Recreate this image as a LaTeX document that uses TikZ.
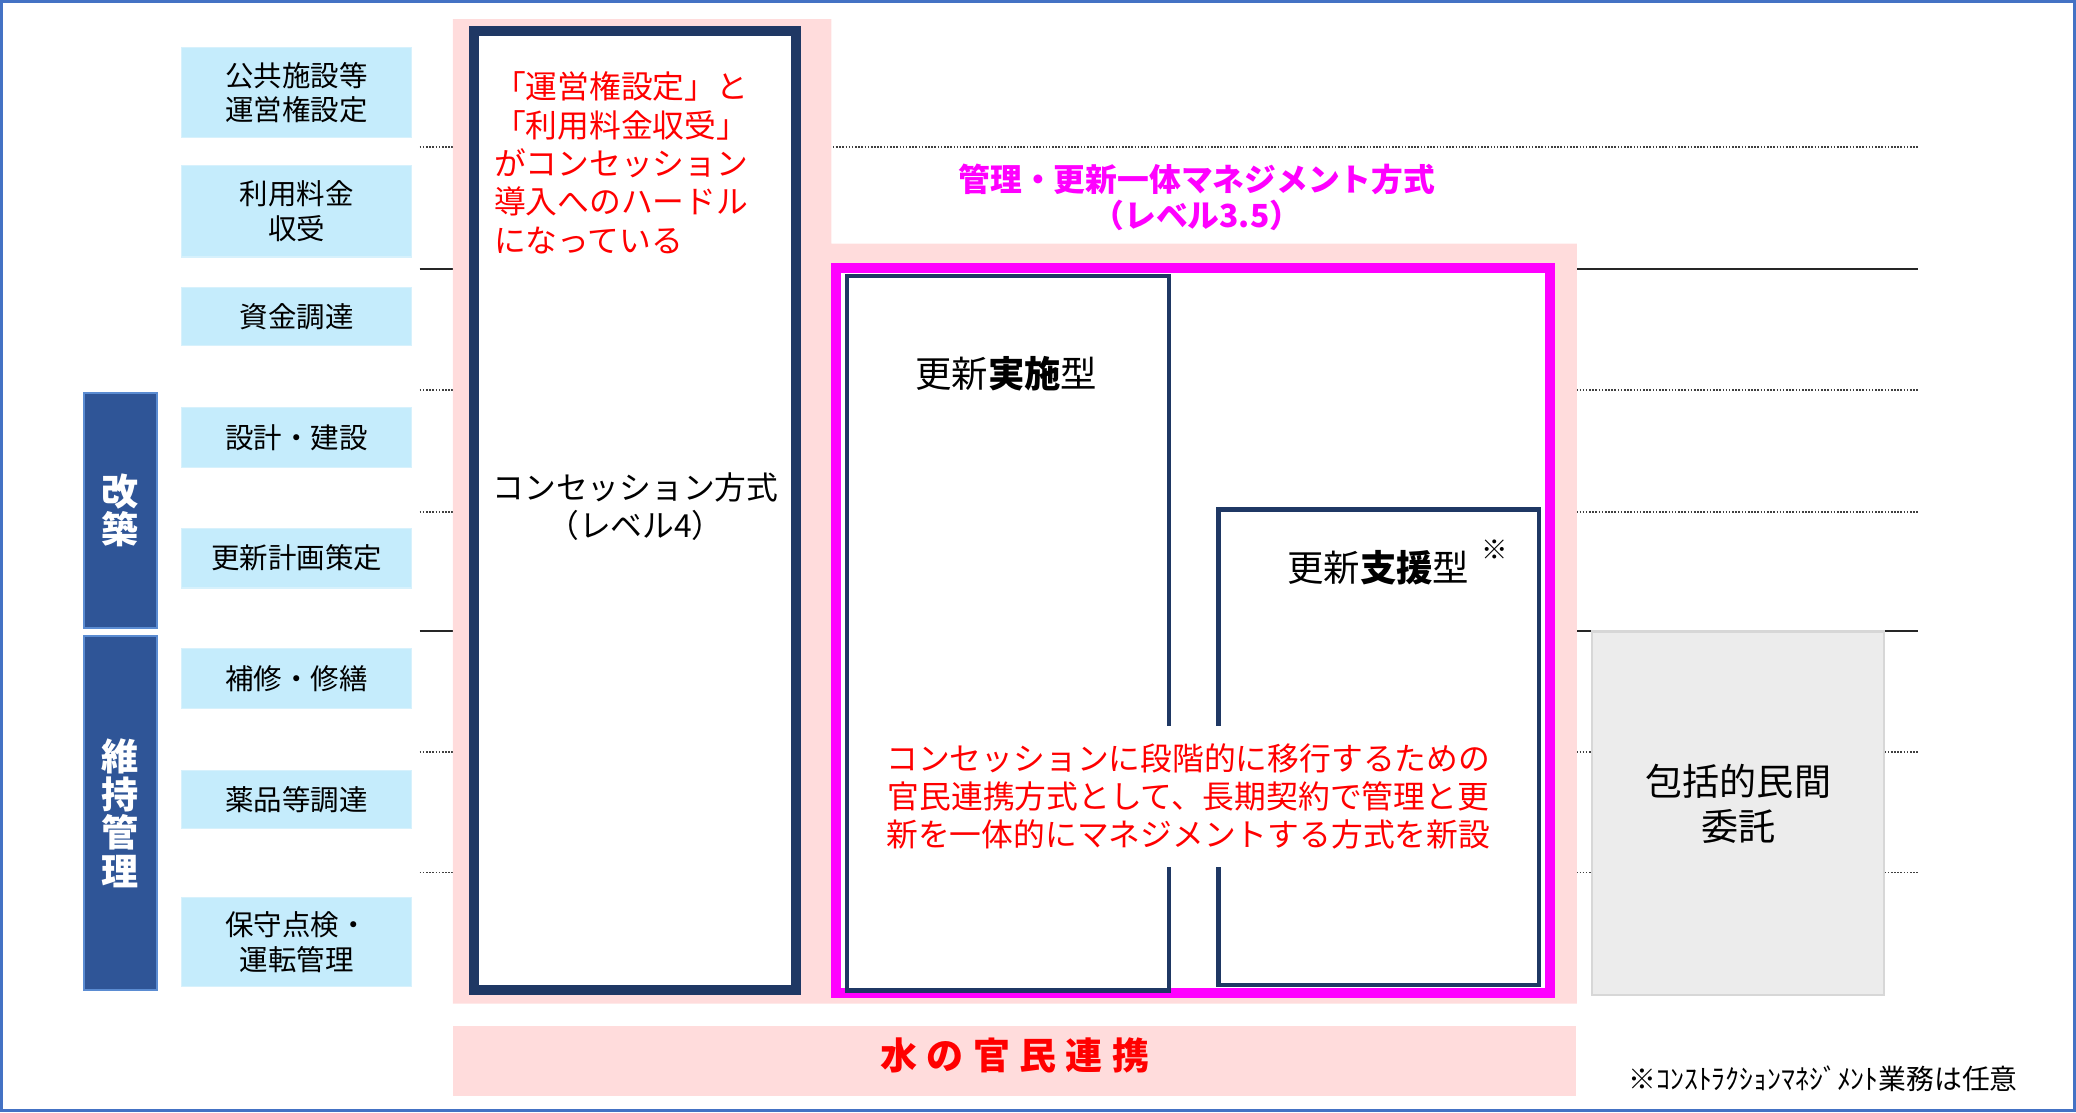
\documentclass[tikz,border=0pt]{standalone}
\usepackage{fontspec}
\setmainfont{Noto Sans CJK JP}
\newfontfamily\spacedjp{Noto Sans CJK JP}[LetterSpace=25]

\definecolor{itemblue}{RGB}{197,236,252}
\definecolor{itemedge}{RGB}{215,241,252}
\definecolor{barblue}{RGB}{47,85,151}
\definecolor{baredge}{RGB}{91,140,210}
\definecolor{navy}{RGB}{31,56,100}
\definecolor{pinkbg}{RGB}{255,220,220}
\definecolor{mgmtpink}{RGB}{255,0,255}
\definecolor{notered}{RGB}{255,0,0}
\definecolor{frameblue}{RGB}{68,114,196}
\definecolor{grayfill}{RGB}{236,236,236}
\definecolor{grayedge}{RGB}{215,215,215}

\begin{document}
\begin{tikzpicture}[x=1pt, y=-1pt,
    item/.style={
        draw=itemedge, line width=1pt, fill=itemblue,
        minimum width=174pt, inner sep=0pt, align=center,
        font=\fontsize{21.5}{26}\selectfont
    },
    category/.style={
        draw=baredge, line width=1.5pt, fill=barblue, text=white,
        minimum width=55pt, inner sep=0pt, align=center,
        font=\bfseries\fontsize{28}{29}\selectfont
    },
    scheme/.style={draw=navy, fill=white, line width=3.5pt, inner sep=0pt},
    note/.style={text=notered, inner sep=0pt, font=\fontsize{24}{29}\selectfont},
    dotline/.style={black!75, line width=1.2pt, dash pattern=on 1.2pt off 1.2pt},
    fullline/.style={black!85, line width=1.5pt}
]
\useasboundingbox (0,0) rectangle (1568,840);
\draw[frameblue, line width=2.5pt] (1.25,1.25) rectangle (1566.75,838.75);

% row separators
\draw[dotline]  (317,111)   -- (1449,111);
\draw[fullline] (317,203)   -- (1449,203);
\draw[dotline]  (317,294.5) -- (1449,294.5);
\draw[dotline]  (317,386.5) -- (1449,386.5);
\draw[fullline] (317,476.5) -- (1449,476.5);
\draw[dotline]  (317,568)   -- (1449,568);
\draw[dotline]  (317,659)   -- (1449,659);

% pink background of the two schemes
\fill[pinkbg] (342,14.4) -- (628,14.4) -- (628,184) -- (1191,184)
    -- (1191,758) -- (342,758) -- cycle;

% left columns
\node[category, minimum height=177pt] (kaichiku) at (91,385.5) {改\\築};
\node[category, minimum height=268pt] (iji) at (91,614) {維\\持\\管\\理};

\node[item, minimum height=68pt] (koukyou) at (224,70)    {公共施設等\\運営権設定};
\node[item, minimum height=69pt] (ryoukin) at (224,159.5) {利用料金\\収受};
\node[item, minimum height=44pt] (shikin)  at (224,239)   {資金調達};
\node[item, minimum height=45pt] (sekkei)  at (224,330.5) {設計・建設};
\node[item, minimum height=45pt] (keikaku) at (224,421.5) {更新計画策定};
\node[item, minimum height=45pt] (hoshu)   at (224,512.5) {補修・修繕};
\node[item, minimum height=44pt] (yakuhin) at (224,604)   {薬品等調達};
\node[item, minimum height=67pt] (tenken)  at (224,711.5) {保守点検・\\運転管理};

% concession (level 4)
\node[scheme, line width=7.5pt, minimum width=243.5pt, minimum height=724.3pt] (conc) at (479.75,385.45) {};
\node[note, anchor=west, align=left] (concnote) at (373,123)
    {「運営権設定」と\\「利用料金収受」\\がコンセッション\\導入へのハードル\\になっている};
\node[align=center, inner sep=0pt, font=\fontsize{24}{29}\selectfont] (conclabel) at (480,382.5)
    {コンセッション方式\\（レベル4）};

% level 3.5
\node[align=center, inner sep=0pt, text=mgmtpink, font=\bfseries\fontsize{24}{27.7}\selectfont] (mgmtlabel) at (904,149)
    {管理・更新一体マネジメント方式\\（レベル3.5）};
\node[draw=mgmtpink, fill=white, line width=7.6pt, minimum width=539.4pt, minimum height=547.4pt, inner sep=0pt] (mgmt) at (901,476.3) {};
\node[scheme, minimum width=243.1pt, minimum height=539.5pt] (jisshi) at (761.35,478.25) {};
\node[scheme, minimum width=242pt, minimum height=359pt] (shien) at (1041.5,564.5) {};
\node[inner sep=0pt, font=\fontsize{27.5}{30}\selectfont] (jisshilabel) at (760,282.5) {更新\textbf{実施}型};
\node[inner sep=0pt, font=\fontsize{27.5}{30}\selectfont] (shienlabel) at (1041,428.7) {更新\textbf{支援}型};
\node[inner sep=0pt, font=\fontsize{20}{22}\selectfont] (shienmark) at (1129,415) {※};
\node[note, fill=white, align=center, inner xsep=6pt, minimum height=107pt] (ikou) at (897.5,601.5)
    {コンセッションに段階的に移行するための\\官民連携方式として、長期契約で管理と更\\新を一体的にマネジメントする方式を新設};

% comprehensive outsourcing
\node[draw=grayedge, line width=2pt, fill=grayfill, minimum width=220.6pt, minimum height=274.5pt, inner sep=0pt] (houkatsu) at (1312.7,614.25) {};
\node[align=center, inner sep=0pt, font=\fontsize{28}{34}\selectfont] (houkatsulabel) at (1313,607) {包括的民間\\委託};

% bottom bar
\node[fill=pinkbg, minimum width=848pt, minimum height=53pt, inner sep=0pt] (renkei) at (766,801.5) {};
\node[inner sep=0pt, text=notered, font=\spacedjp\bfseries\fontsize{28}{30}\selectfont] (renkeilabel) at (766.5,797.5) {水の官民連携};
\node[inner sep=0pt, font=\fontsize{21}{24}\selectfont] (cmnote) at (1377,815) {※ｺﾝｽﾄﾗｸｼｮﾝﾏﾈｼﾞﾒﾝﾄ業務は任意};
\end{tikzpicture}
\end{document}
